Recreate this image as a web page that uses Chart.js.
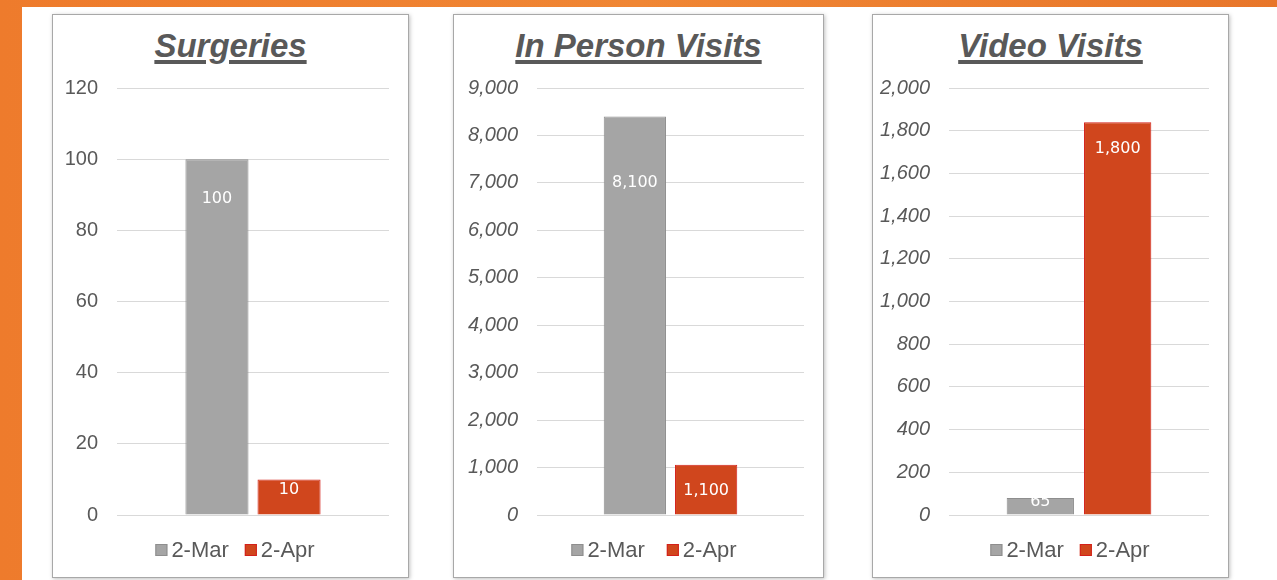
<!DOCTYPE html>
<html>
<head>
<meta charset="utf-8">
<script src="https://cdn.jsdelivr.net/npm/chart.js@4"></script>
<style>
  html, body { margin: 0; padding: 0; }
  body {
    width: 1277px; height: 580px; overflow: hidden; position: relative;
    background: linear-gradient(90deg, #ee7b2c 0%, #f08634 50%, #e8762a 100%);
    font-family: "Liberation Sans", Arial, sans-serif;
  }
  #sheet { position: absolute; left: 22px; top: 7px; right: 0; bottom: 0; background: #fff; }
  .panel {
    position: absolute; top: 14px; height: 564px; box-sizing: border-box;
    border: 1px solid #a8a8a8; background: #fff;
    box-shadow: 1px 1px 4px rgba(0,0,0,0.25);
  }
  .panel canvas { position: absolute; left: 0; top: 0; }
  .panel h2 {
    position: absolute; left: 0; right: 0; top: 12px; margin: 0; text-align: center;
    font: italic bold 33px "Liberation Sans", Arial, sans-serif; color: #595959;
    text-decoration: underline; text-decoration-thickness: 4px; text-underline-offset: 3px;
  }
</style>
</head>
<body>
<div id="sheet"></div>
<div class="panel" id="p0" style="left:52px;width:357px"><h2>Surgeries</h2><canvas id="c0"></canvas></div>
<div class="panel" id="p1" style="left:453px;width:371px"><h2>In Person Visits</h2><canvas id="c1"></canvas></div>
<div class="panel" id="p2" style="left:872px;width:357px"><h2>Video Visits</h2><canvas id="c2"></canvas></div>
<script>
// data
const seriesNames = ['2-Mar', '2-Apr'];
const titles = ['Surgeries', 'In Person Visits', 'Video Visits'];
const surgeries = [100, 10];
const inPerson = [8400, 1060];
const video = [80, 1840];
const surgeriesLabels = ['100', '10'];
const inPersonLabels = ['8,100', '1,100'];
const videoLabels = ['65', '1,800'];
const axisMax = [120, 9000, 2000];
const axisStep = [20, 1000, 200];

const GRAY = '#a5a5a5', RED = '#d0461d';
const TEXT = '#595959';
const FONT = '"Liberation Sans", Arial, sans-serif';

// white value labels inside the bars
const barLabels = {
  id: 'barLabels',
  afterDatasetsDraw(chart, args, opts) {
    const ctx = chart.ctx;
    ctx.save();
    ctx.fillStyle = '#fff';
    ctx.font = '16px "DejaVu Sans", Verdana, sans-serif';
    ctx.textAlign = 'center';
    ctx.textBaseline = 'middle';
    chart.data.datasets.forEach((ds, i) => {
      const bar = chart.getDatasetMeta(i).data[0];
      ctx.fillText(opts.labels[i], bar.x, bar.y + opts.offsets[i]);
    });
    ctx.restore();
  }
};

// compact legend like the office one: small box, tight gap to the text
const tightLegend = {
  id: 'tightLegend',
  afterDraw(chart, args, opts) {
    const ctx = chart.ctx;
    ctx.save();
    ctx.font = '22px ' + FONT;
    ctx.textBaseline = 'middle';
    const items = chart.data.datasets.map(ds => ({ ds, w: ctx.measureText(ds.label).width }));
    const box = 12, gap = 4, sep = opts.sep;
    let total = items.reduce((s, it) => s + box + gap + it.w, 0) + sep * (items.length - 1);
    let x = opts.centerX - total / 2;
    const y = opts.y;
    items.forEach(it => {
      ctx.fillStyle = it.ds.backgroundColor;
      ctx.strokeStyle = it.ds.borderColor;
      ctx.lineWidth = 1;
      ctx.fillRect(x, y - box / 2, box, box);
      ctx.strokeRect(x + 0.5, y - box / 2 + 0.5, box - 1, box - 1);
      x += box + gap;
      ctx.fillStyle = TEXT;
      ctx.fillText(it.ds.label, x, y + 1);
      x += it.w + sep;
    });
    ctx.restore();
  }
};

function makeChart(id, values, labels, idx, leftW, offsets, italic, catPct, barPct, legendX, legendSep) {
  const panel = document.getElementById('p' + idx);
  const canvas = document.getElementById(id);
  canvas.width = panel.clientWidth;
  canvas.height = panel.clientHeight;
  return new Chart(canvas, {
    type: 'bar',
    data: {
      labels: [titles[idx]],
      datasets: [
        { label: seriesNames[0], data: [values[0]], backgroundColor: GRAY, borderColor: '#8e8e8e', borderWidth: 1 },
        { label: seriesNames[1], data: [values[1]], backgroundColor: RED, borderColor: '#d4201a', borderWidth: 1 }
      ]
    },
    options: {
      responsive: false,
      animation: false,
      categoryPercentage: catPct,
      barPercentage: barPct,
      layout: { padding: { top: 73, right: 19, left: 0, bottom: 62 } },
      scales: {
        x: { display: false },
        y: {
          min: 0, max: axisMax[idx],
          border: { display: false },
          grid: { color: '#d9d9d9', drawTicks: false },
          afterFit(scale) { scale.width = leftW; },
          ticks: {
            stepSize: axisStep[idx], padding: 19, color: TEXT,
            font: { family: FONT, size: 20, style: italic ? 'italic' : 'normal' },
            callback: v => v.toLocaleString('en-US')
          }
        }
      },
      plugins: {
        title: { display: false },
        tooltip: { enabled: false },
        legend: { display: false },
        barLabels: { labels: labels, offsets: offsets },
        tightLegend: { centerX: legendX, y: 535, sep: legendSep }
      }
    },
    plugins: [barLabels, tightLegend]
  });
}

makeChart('c0', surgeries, surgeriesLabels, 0, 64, [40, 10], false, 0.53, 0.875, 182, 16);
makeChart('c1', inPerson, inPersonLabels, 1, 83, [66, 26], true, 0.534, 0.873, 200, 22);
makeChart('c2', video, videoLabels, 2, 76, [4, 27], true, 0.595, 0.87, 197, 16);
</script>
</body>
</html>
